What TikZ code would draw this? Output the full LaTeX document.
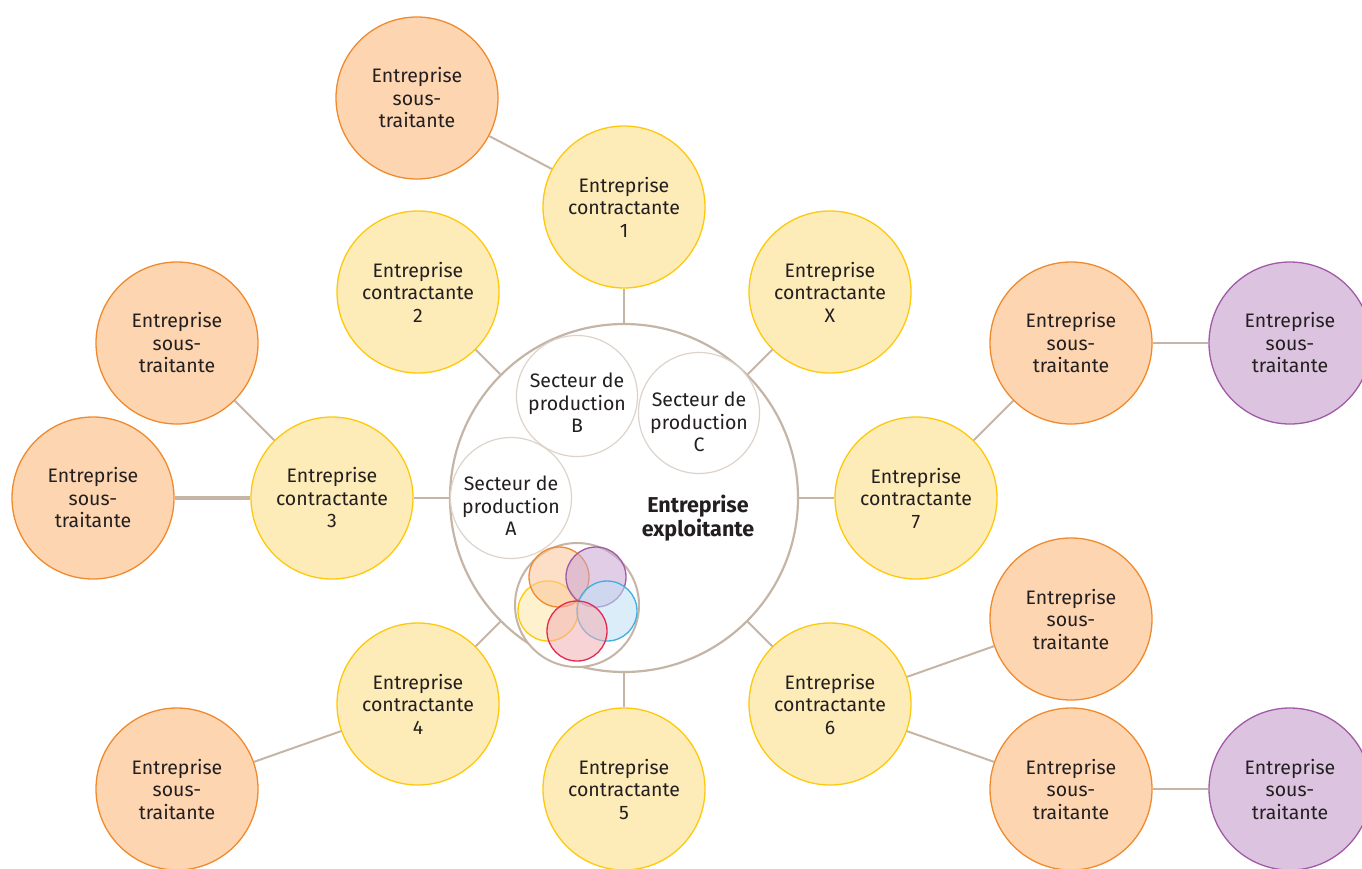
\documentclass[tikz,border=0pt]{standalone}
\usepackage{fontspec}
\setmainfont{Fira Sans}
\definecolor{txt}{HTML}{231F20}
\definecolor{yelF}{HTML}{FDEBB8}
\definecolor{yelS}{HTML}{FDC90A}
\definecolor{orF}{HTML}{FDD5B1}
\definecolor{orS}{HTML}{F08A2C}
\definecolor{puF}{HTML}{DCC3E0}
\definecolor{puS}{HTML}{A05AA6}
\definecolor{lnk}{HTML}{C5B5A7}
\definecolor{secS}{HTML}{DDD3CA}
\definecolor{blS}{HTML}{3DB0E2}
\definecolor{blF}{HTML}{BFE0F5}
\definecolor{rdS}{HTML}{E5294F}
\definecolor{rdF}{HTML}{F3B0B3}
\definecolor{smO}{HTML}{FCC49A}
\definecolor{smP}{HTML}{C9A5D2}
\definecolor{smY}{HTML}{FDE6A6}
\begin{document}
\begin{tikzpicture}[x=1pt,y=-1pt,
  base/.style={circle, minimum size=162pt, inner sep=0pt, align=center, line width=1.3pt, text=txt, font=\fontsize{19.5}{22.5}\selectfont},
  contr/.style={base, draw=yelS, fill=yelF},
  sous/.style={base, draw=orS, fill=orF},
  soustwo/.style={base, draw=puS, fill=puF},
  sect/.style={circle, minimum size=121pt, inner sep=0pt, draw=secS, fill=white, line width=1.2pt},
  secttxt/.style={align=center, inner sep=0pt, text=txt, font=\fontsize{19.5}{22.5}\selectfont},
  link/.style={draw=lnk, line width=2pt},
  small/.style={circle, minimum size=60pt, inner sep=0pt, line width=1.3pt, fill opacity=0.55}
]
\useasboundingbox (0,0) rectangle (1362,868);

% central company
\node[circle, minimum size=348pt, inner sep=0pt, draw=lnk, line width=2.2pt, fill=white] (E) at (624,498) {};

% contracting companies
\node[contr] (k1) at (624,207) {Entreprise\\contractante\\1};
\node[contr] (k2) at (418,292) {Entreprise\\contractante\\2};
\node[contr] (kX) at (830,292) {Entreprise\\contractante\\X};
\node[contr] (k3) at (332,498) {Entreprise\\contractante\\3};
\node[contr] (k7) at (916,498) {Entreprise\\contractante\\7};
\node[contr] (k4) at (418,704) {Entreprise\\contractante\\4};
\node[contr] (k5) at (624,789) {Entreprise\\contractante\\5};
\node[contr] (k6) at (830,704) {Entreprise\\contractante\\6};

% subcontractors
\node[sous] (s1) at (417,98) {Entreprise\\sous-\\traitante};
\node[sous] (s2) at (177,343) {Entreprise\\sous-\\traitante};
\node[sous] (s3) at (93,498) {Entreprise\\sous-\\traitante};
\node[sous] (s4) at (177,789) {Entreprise\\sous-\\traitante};
\node[sous] (s5) at (1071,343) {Entreprise\\sous-\\traitante};
\node[sous] (s6) at (1071,619) {Entreprise\\sous-\\traitante};
\node[sous] (s7) at (1071,789) {Entreprise\\sous-\\traitante};
\node[soustwo] (p1) at (1290,343) {Entreprise\\sous-\\traitante};
\node[soustwo] (p2) at (1290,789) {Entreprise\\sous-\\traitante};

% links
\foreach \k in {k1,k2,kX,k3,k7,k4,k5,k6} {\draw[link] (E) -- (\k);}
\draw[link] (k1) -- (s1);
\draw[link] (k3) -- (s2);
\draw[link, line width=4pt] (k3) -- (s3);
\draw[link] (k4) -- (s4);
\draw[link] (k7) -- (s5);
\draw[link] (s5) -- (p1);
\draw[link] (k6) -- (s6);
\draw[link] (k6) -- (s7);
\draw[link] (s7) -- (p2);

% production sectors
\node[sect] (A) at (511,498) {};
\node[sect] (B) at (577,396) {};
\node[sect] (C) at (699,413) {};
\node[secttxt] (At) at (511,506) {Secteur de\\production\\A};
\node[secttxt] (Bt) at (577,403) {Secteur de\\production\\B};
\node[secttxt] (Ct) at (699,422) {Secteur de\\production\\C};

\node[text=txt, font=\fontsize{21.5}{24}\selectfont\bfseries, align=center, inner sep=0pt] (T) at (698,518) {Entreprise\\exploitante};

% small cluster
\node[circle, minimum size=124pt, inner sep=0pt, draw=lnk, line width=2pt, fill=white] (O) at (577,605) {};
\node[small, draw=yelS, fill=smY] (cy) at (548,611) {};
\node[small, draw=orS, fill=smO] (co) at (559,577) {};
\node[small, draw=puS, fill=smP] (cp) at (596,577) {};
\node[small, draw=blS, fill=blF] (cb) at (607,611) {};
\node[small, draw=rdS, fill=rdF] (cr) at (577,631) {};
\end{tikzpicture}
\end{document}
